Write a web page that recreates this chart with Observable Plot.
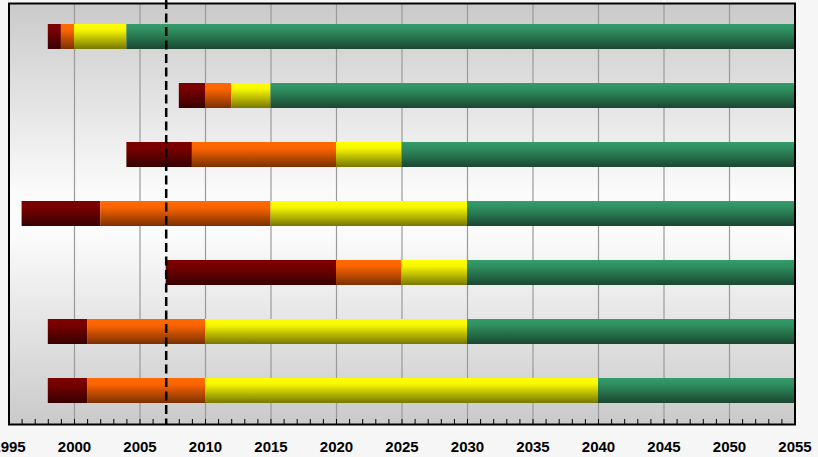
<!DOCTYPE html>
<html>
<head>
<meta charset="utf-8">
<script src="https://cdn.jsdelivr.net/npm/d3@7"></script>
<script src="https://cdn.jsdelivr.net/npm/@observablehq/plot@0.6"></script>
<style>
  html, body { margin: 0; padding: 0; background: #f6f6f6; }
  #chart svg { display: block; }
</style>
</head>
<body>
<div id="chart"></div>
<script>
// Rows (top to bottom), phase boundaries in years
const rows       = [1, 2, 3, 4, 5, 6, 7];
const starts     = [1998, 2008, 2004, 1996, 2007, 1998, 1998];
const redEnds    = [1999, 2010, 2009, 2002, 2020, 2001, 2001];
const orangeEnds = [2000, 2012, 2020, 2015, 2025, 2010, 2010];
const yellowEnds = [2004, 2015, 2025, 2030, 2030, 2030, 2040];
const greenEnds  = [2055, 2055, 2055, 2055, 2055, 2055, 2055];
const markerYear = [2007];
const majorTicks = [1995, 2000, 2005, 2010, 2015, 2020, 2025, 2030, 2035, 2040, 2045, 2050, 2055];
const minorTicks = d3.range(1995, 2056, 1);

const phases = [
  {key: "red",    from: starts,     to: redEnds},
  {key: "orange", from: redEnds,    to: orangeEnds},
  {key: "yellow", from: orangeEnds, to: yellowEnds},
  {key: "green",  from: yellowEnds, to: greenEnds}
];
const segs = k => {
  const p = phases.find(p => p.key === k);
  return rows.map((r, i) => ({row: r, x1: p.from[i], x2: p.to[i]})).filter(d => d.x2 > d.x1);
};

const chart = Plot.plot({
  width: 818,
  height: 457,
  marginLeft: 8.5,
  marginRight: 23.5,
  marginTop: 3,
  marginBottom: 33,
  style: {background: "#f6f6f6", fontFamily: "'Liberation Sans', Arial, sans-serif", fontSize: "15px", fontWeight: "bold", color: "black", overflow: "visible"},
  x: {domain: [1995, 2055], axis: null},
  y: {domain: rows, paddingInner: 0.583, paddingOuter: 0.3, axis: null},
  marks: [
    Plot.frame({fill: "url(#bgGrad)"}),
    Plot.ruleX(majorTicks.filter(d => d > 1995 && d < 2055), {stroke: "#9a9a9a", strokeWidth: 1.2}),
    Plot.ruleX(minorTicks, {stroke: "#000", strokeWidth: 1, insetTop: 416}),
    Plot.barX(segs("red"),    {x1: "x1", x2: "x2", y: "row", fill: "url(#gRed)"}),
    Plot.barX(segs("orange"), {x1: "x1", x2: "x2", y: "row", fill: "url(#gOrange)"}),
    Plot.barX(segs("yellow"), {x1: "x1", x2: "x2", y: "row", fill: "url(#gYellow)"}),
    Plot.barX(segs("green"),  {x1: "x1", x2: "x2", y: "row", fill: "url(#gGreen)"}),
    Plot.frame({stroke: "#000", strokeWidth: 2}),
    Plot.ruleX(markerYear, {stroke: "#000", strokeWidth: 2.5, strokeDasharray: "9,4.5", insetTop: -3}),
    Plot.axisX(majorTicks, {tickSize: 0, tickPadding: 17, tickFormat: "d", fontSize: 15, fontWeight: "bold", fill: "#000"})
  ]
});

// gradients
const svg = d3.select(chart.tagName.toLowerCase() === "svg" ? chart : chart.querySelector("svg"));
const defs = svg.insert("defs", ":first-child");
function vgrad(id, stops) {
  const g = defs.append("linearGradient").attr("id", id).attr("x1", 0).attr("y1", 0).attr("x2", 0).attr("y2", 1);
  stops.forEach(([o, c]) => g.append("stop").attr("offset", o).attr("stop-color", c));
}
vgrad("bgGrad", [[0, "#cacaca"], [0.45, "#fbfbfb"], [0.55, "#fbfbfb"], [1, "#cacaca"]]);
vgrad("gRed",    [[0, "#7d0000"], [0.25, "#780000"], [1, "#380000"]]);
vgrad("gOrange", [[0, "#ff6a00"], [0.25, "#fb6400"], [1, "#7a3000"]]);
vgrad("gYellow", [[0, "#ffff00"], [0.25, "#f6f600"], [1, "#777700"]]);
vgrad("gGreen",  [[0, "#349c6a"], [0.25, "#2f8f60"], [1, "#1a4731"]]);

document.getElementById("chart").appendChild(chart);
</script>
</body>
</html>
